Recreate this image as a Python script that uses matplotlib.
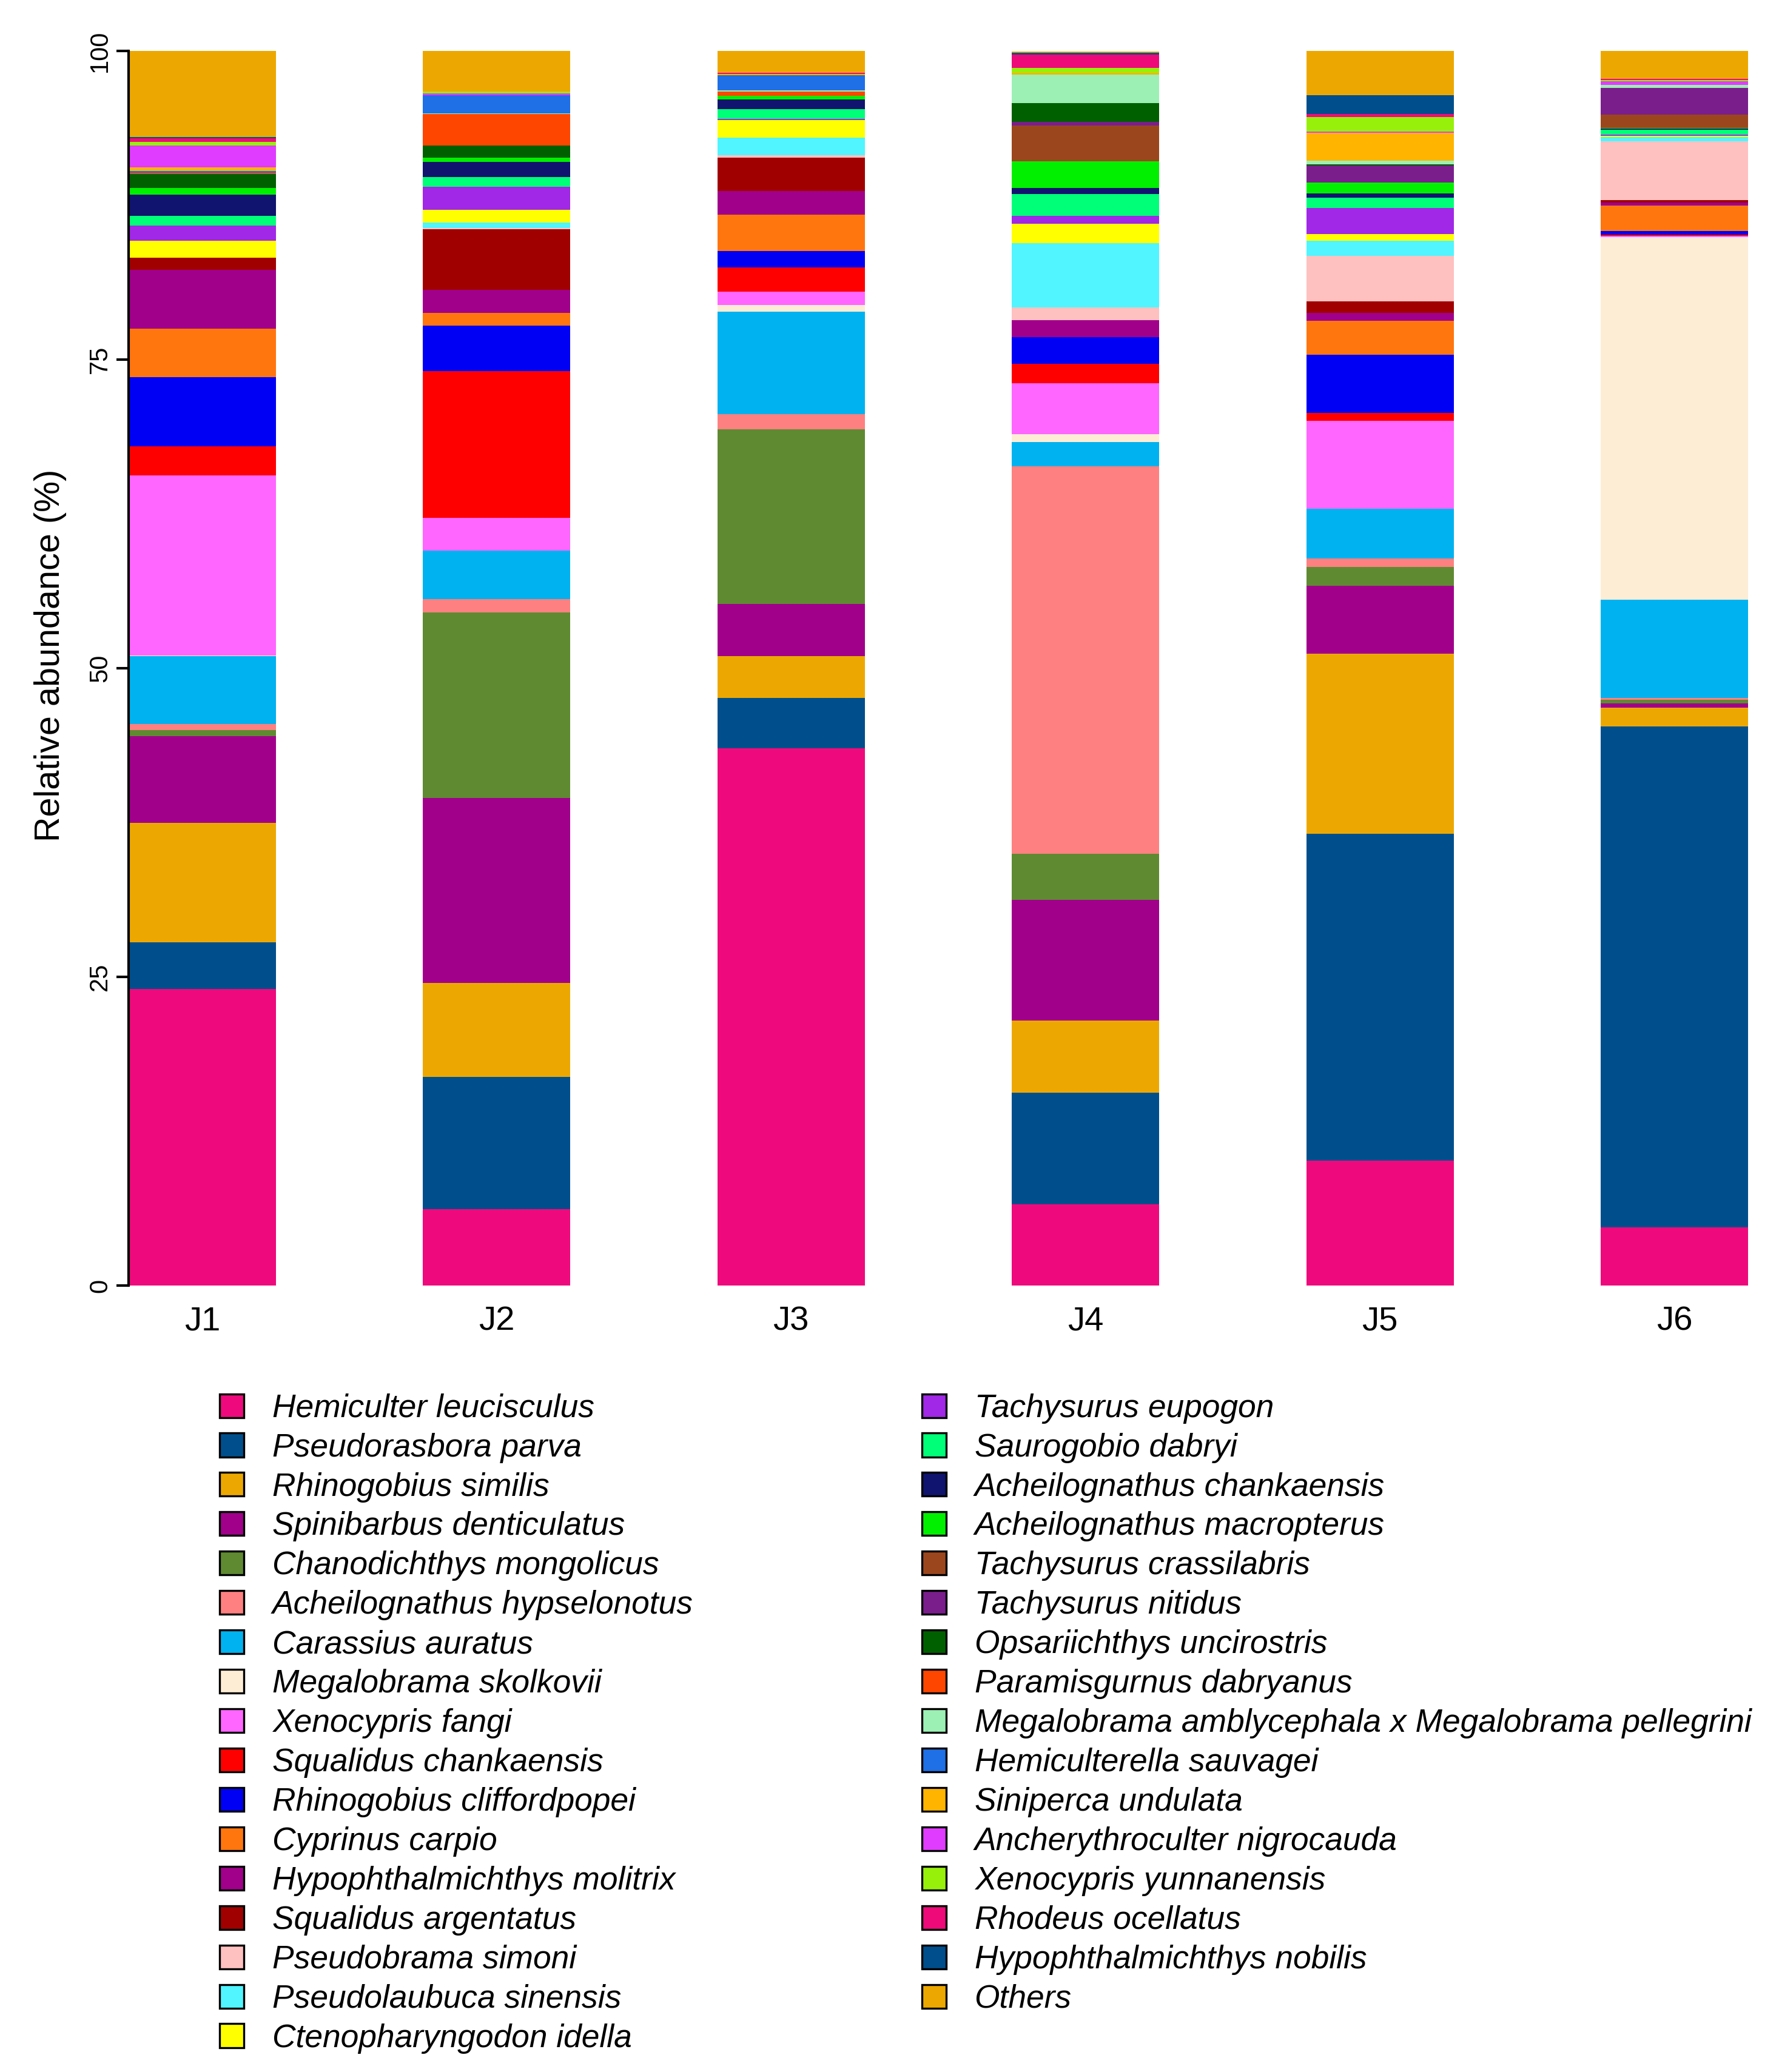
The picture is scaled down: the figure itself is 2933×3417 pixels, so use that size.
import matplotlib
matplotlib.use("Agg")
import matplotlib.pyplot as plt
from matplotlib.patches import Patch
import numpy as np

plt.rcParams['font.family'] = ['Liberation Sans', 'DejaVu Sans']

sites = ['J1', 'J2', 'J3', 'J4', 'J5', 'J6']

species = [
    'Hemiculter leucisculus', 'Pseudorasbora parva', 'Rhinogobius similis',
    'Spinibarbus denticulatus', 'Chanodichthys mongolicus', 'Acheilognathus hypselonotus',
    'Carassius auratus', 'Megalobrama skolkovii', 'Xenocypris fangi',
    'Squalidus chankaensis', 'Rhinogobius cliffordpopei', 'Cyprinus carpio',
    'Hypophthalmichthys molitrix', 'Squalidus argentatus', 'Pseudobrama simoni',
    'Pseudolaubuca sinensis', 'Ctenopharyngodon idella', 'Tachysurus eupogon',
    'Saurogobio dabryi', 'Acheilognathus chankaensis', 'Acheilognathus macropterus',
    'Tachysurus crassilabris', 'Tachysurus nitidus', 'Opsariichthys uncirostris',
    'Paramisgurnus dabryanus', 'Megalobrama amblycephala x Megalobrama pellegrini',
    'Hemiculterella sauvagei', 'Siniperca undulata', 'Ancherythroculter nigrocauda',
    'Xenocypris yunnanensis', 'Rhodeus ocellatus', 'Hypophthalmichthys nobilis',
    'Others',
]

colors = [
    '#EE0A7C', '#004F8C', '#ECA800', '#A1008B', '#5F8A32', '#FF8080',
    '#00B2F0', '#FEEDD5', '#FF66FF', '#FF0000', '#0000F5', '#FF760F',
    '#A0008A', '#A00000', '#FFC0C0', '#50F5FF', '#FFFF00', '#A028E6',
    '#00FF78', '#10146E', '#00F000', '#9C461E', '#7A1E8C', '#006000',
    '#FF4600', '#9CF0B4', '#1F6FE6', '#FFB400', '#E03CFF', '#96F00A',
    '#EE0A78', '#004E8C', '#ECA800',
]

# relative abundance (%) per species, one list per site
J1 = [24.0, 3.8, 9.7, 7.0, 0.5, 0.5, 5.5, 0.05, 14.55, 2.4, 5.6, 3.9, 4.75, 1.0, 0.0, 0.0,
      1.4, 1.2, 0.8, 1.7, 0.57, 0.0, 0.0, 1.1, 0.1, 0.0, 0.15, 0.3, 1.75, 0.3, 0.3, 0.1, 6.98]
J2 = [6.2, 10.7, 7.6, 15.0, 15.0, 1.1, 3.95, 0.0, 2.65, 11.87, 3.7, 1.0, 1.9, 4.9, 0.09, 0.46,
      1.0, 1.87, 0.8, 1.2, 0.35, 0.0, 0.0, 1.0, 2.53, 0.09, 1.43, 0.0, 0.15, 0.18, 0.0, 0.0, 3.28]
J3 = [43.5, 4.1, 3.4, 4.2, 14.16, 1.23, 8.3, 0.55, 1.08, 1.93, 1.36, 2.95, 1.9, 2.7, 0.2, 1.43,
      1.43, 0.09, 0.77, 0.8, 0.29, 0.0, 0.0, 0.0, 0.33, 0.13, 1.2, 0.1, 0.0, 0.0, 0.1, 0.0, 1.87]
J4 = [6.6, 9.0, 5.85, 9.8, 3.7, 31.4, 1.95, 0.66, 4.1, 1.6, 2.15, 0.0, 1.36, 0.0, 1.05, 5.19,
      1.6, 0.62, 1.76, 0.53, 2.15, 2.88, 0.29, 1.56, 0.0, 2.29, 0.0, 0.13, 0.0, 0.4, 1.1, 0.15, 0.07]
J5 = [10.1, 26.5, 14.6, 5.5, 1.5, 0.7, 4.0, 0.0, 7.12, 0.66, 4.73, 2.75, 0.62, 0.95, 3.67, 1.23,
      0.55, 2.09, 0.86, 0.35, 0.88, 0.0, 1.38, 0.09, 0.0, 0.26, 0.0, 2.3, 0.07, 1.2, 0.24, 1.5, 3.6]
J6 = [4.7, 40.6, 1.51, 0.33, 0.33, 0.13, 7.93, 29.4, 0.1, 0.09, 0.3, 2.07, 0.22, 0.2, 4.77, 0.35,
      0.1, 0.1, 0.4, 0.08, 0.07, 1.05, 2.18, 0.0, 0.0, 0.26, 0.0, 0.0, 0.29, 0.08, 0.1, 0.0, 2.26]

W, H = 2933, 3417
values = np.array([J1, J2, J3, J4, J5, J6]).T

fig = plt.figure(figsize=(W / 300, H / 300), dpi=300)
ax = fig.add_axes([212 / W, 1 - 2120 / H, 2670 / W, 2036 / H])

x = np.arange(len(sites))
bottom = np.zeros(len(sites))
for col, vals in zip(colors, values):
    ax.bar(x, vals, 0.5, bottom=bottom, color=col, linewidth=0)
    bottom += vals

ax.set_xlim(-0.25, 5.25)
ax.set_ylim(0, 100)
for s in ['top', 'right', 'bottom']:
    ax.spines[s].set_visible(False)
ax.spines['left'].set_linewidth(1.0)

ax.set_xticks(x, sites)
ax.tick_params(axis='x', length=0, pad=8, labelsize=13.5)
ax.set_yticks([0, 25, 50, 75, 100])
ax.set_yticklabels(['0', '25', '50', '75', '100'], rotation=90, va='center')
ax.tick_params(axis='y', length=4.8, width=1.0, pad=1.7, labelsize=10)

fig.text(83 / W, 1 - 1081 / H, 'Relative abundance (%)', rotation=90,
         ha='center', va='center', fontsize=13.8)

# legend in two columns
handles = [Patch(facecolor=c, edgecolor='black', linewidth=0.8, label=n)
           for n, c in zip(species, colors)]
leg_kw = dict(frameon=False, borderpad=0, handlelength=0.75, handleheight=0.75,
              handletextpad=0.88, labelspacing=0.28, loc='upper left',
              prop={'size': 12.8, 'style': 'italic'}, bbox_transform=fig.transFigure)
fig.legend(handles=handles[:17], bbox_to_anchor=(335 / W, 1 - 2271 / H), **leg_kw)
fig.legend(handles=handles[17:], bbox_to_anchor=(1493 / W, 1 - 2271 / H), **leg_kw)

fig.savefig('out.png', dpi=300)
